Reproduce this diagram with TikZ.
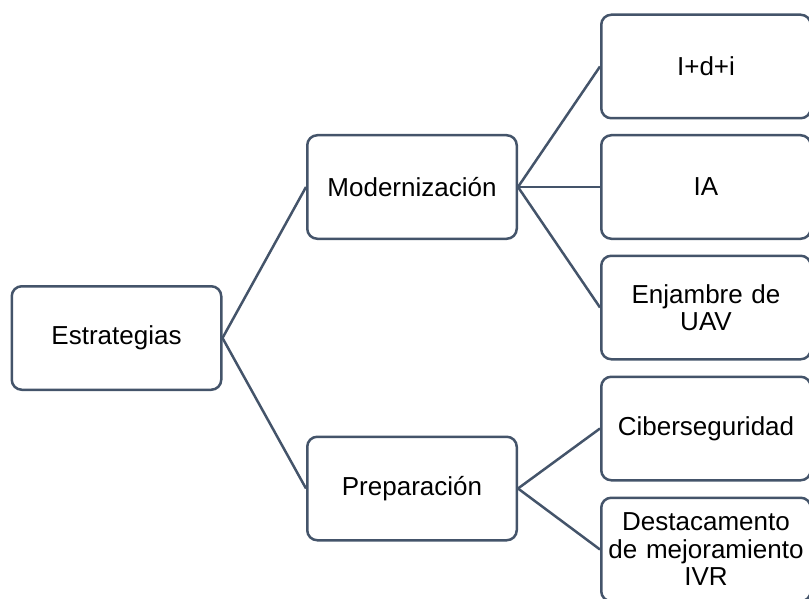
\documentclass[tikz,border=0pt]{standalone}
\usepackage{fontspec}
\setmainfont{Liberation Sans}
\definecolor{edge}{HTML}{44546A}
\begin{document}
\begin{tikzpicture}[x=1pt,y=-1pt,
  box/.style={draw=edge, line width=2.5pt, rounded corners=10pt, fill=white,
    minimum width=209.5pt, minimum height=103.5pt, inner sep=0pt,
    align=center, text width=205pt, font=\fontsize{26}{27.5}\selectfont},
  link/.style={draw=edge, line width=2.5pt}]
\clip (0,0) rectangle (809,599);
\useasboundingbox (0,0) rectangle (809,599);
\node[box] (e) at (116.5,338) {Estrategias};
\node[box] (m) at (412,187) {Modernización};
\node[box] (p) at (412,488.5) {Preparación};
\node[box] (r1) at (706,66.5) {I+d+i};
\node[box] (r2) at (706,187) {IA};
\node[box] (r3) at (706,307.5) {Enjambre de\\UAV};
\node[box] (r4) at (706,428.5) {Ciberseguridad};
\node[box] (r5) at (706,549.5) {Destacamento\\de mejoramiento\\IVR};
\draw[link] (e.east) -- (m.west);
\draw[link] (e.east) -- (p.west);
\draw[link] (m.east) -- (r1.west);
\draw[link] (m.east) -- (r2.west);
\draw[link] (m.east) -- (r3.west);
\draw[link] (p.east) -- (r4.west);
\draw[link] (p.east) -- (r5.west);
\end{tikzpicture}
\end{document}
